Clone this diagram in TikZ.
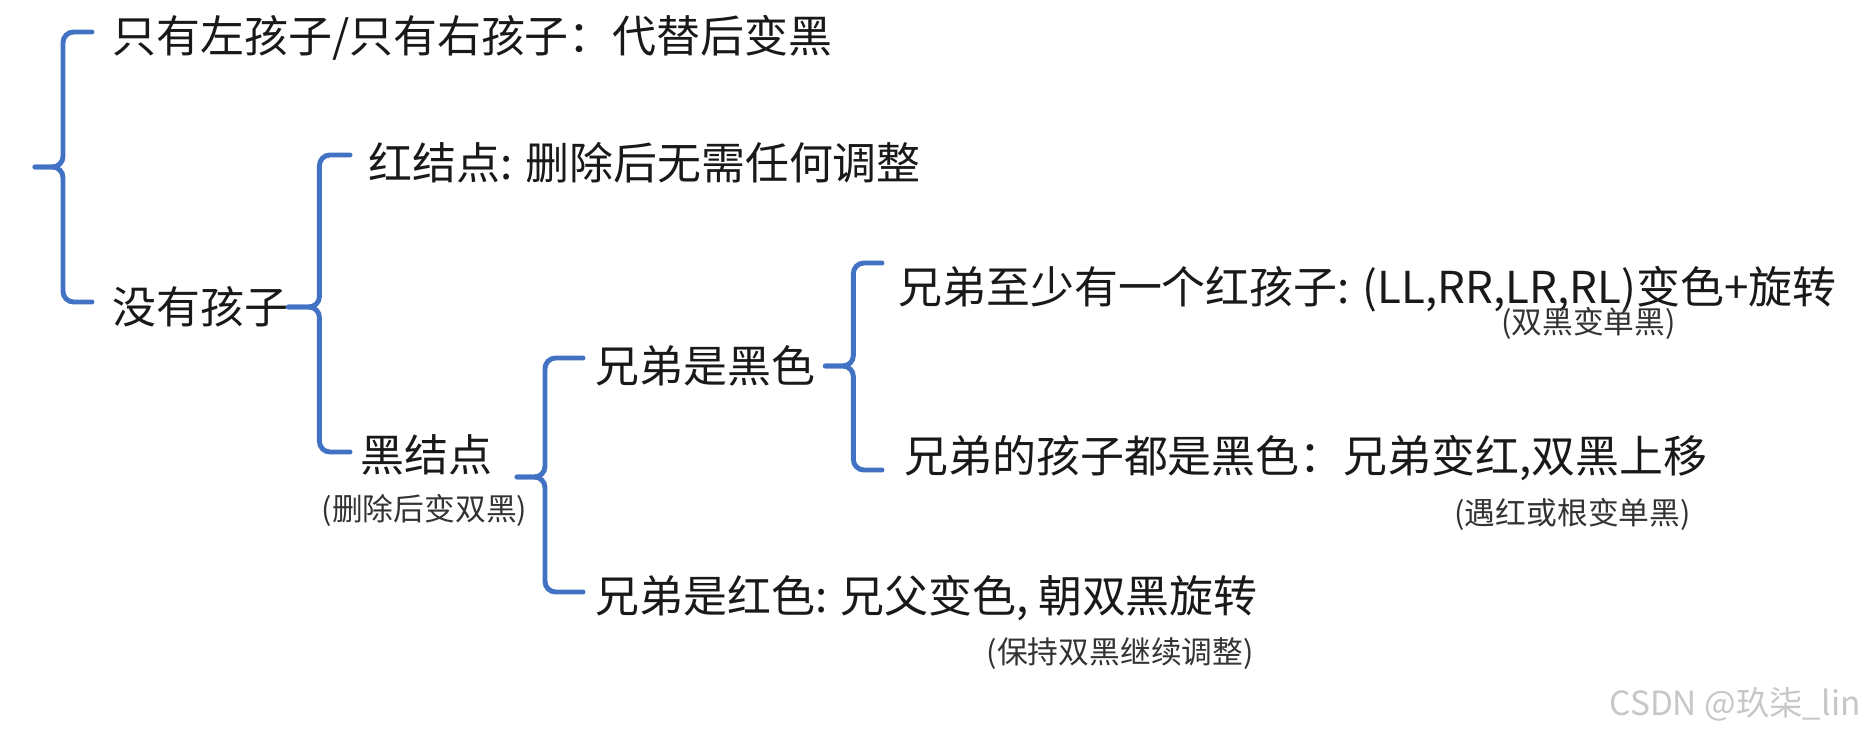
\documentclass[tikz,border=0pt]{standalone}
\usepackage{fontspec}
\usepackage{tikz}
\newfontfamily\cjk{Noto Sans CJK SC}
\definecolor{braceblue}{RGB}{66,114,196}

\begin{document}
\begin{tikzpicture}[
        item/.style={font=\cjk\fontsize{25pt}{30pt}\selectfont, text=black!90, inner sep=0pt, anchor=west},
        note/.style={font=\cjk\fontsize{17.5pt}{21pt}\selectfont, text=black!80, inner sep=0pt},
        brace/.style={draw=braceblue, line width=2.8pt, rounded corners=6pt, line cap=round},
        wmark/.style={font=\cjk\fontsize{19pt}{22pt}\selectfont, text=black!22, inner sep=0pt, anchor=east}
    ]
        \fill[white] (0,0) rectangle (37.28,14.66);

        \node[item] (onlyone) at (2.24, 13.90) {只有左孩子/只有右孩子：代替后变黑};
        \node[item] (nochild) at (2.24, 8.52) {没有孩子};
        \node[item] (red) at (7.36, 11.40) {红结点: 删除后无需任何调整};
        \node[item] (black) at (7.20, 5.56) {黑结点};
        \node[note] (blacknote) at (8.49, 4.46) {(删除后变双黑)};
        \node[item] (sibblack) at (11.90, 7.34) {兄弟是黑色};
        \node[item] (sibred) at (11.90, 2.70) {兄弟是红色: 兄父变色, 朝双黑旋转};
        \node[note, anchor=east] (sibrednote) at (25.08, 1.58) {(保持双黑继续调整)};
        \node[item] (redkid) at (17.96, 8.88) {兄弟至少有一个红孩子: (LL,RR,LR,RL)变色+旋转};
        \node[note, anchor=east] (redkidnote) at (33.52, 8.20) {(双黑变单黑)};
        \node[item] (blackkid) at (18.08, 5.50) {兄弟的孩子都是黑色：兄弟变红,双黑上移};
        \node[note, anchor=east] (blackkidnote) at (33.82, 4.38) {(遇红或根变单黑)};
        \node[wmark] (csdn) at (37.22, 0.58) {CSDN @玖柒\_lin};

        \coordinate (root) at (0.70, 11.32);
        \coordinate (blacktip) at (10.34, 5.12);

        % braces
        \draw[brace] ([xshift=-0.40cm, yshift=0.12cm]onlyone.west) -| ([xshift=0.56cm]root) -- (root);
        \draw[brace] ([xshift=-0.40cm, yshift=0.10cm]nochild.west) -| ([xshift=0.56cm]root) -- (root);
        \draw[brace] ([xshift=-0.36cm, yshift=0.16cm]red.west) -| ([xshift=0.62cm]nochild.east) -- (nochild.east);
        \draw[brace] ([xshift=-0.20cm, yshift=0.06cm]black.west) -| ([xshift=0.62cm]nochild.east) -- (nochild.east);
        \draw[brace] ([xshift=-0.24cm, yshift=0.16cm]sibblack.west) -| ([xshift=0.56cm]blacktip) -- (blacktip);
        \draw[brace] ([xshift=-0.24cm, yshift=0.12cm]sibred.west) -| ([xshift=0.56cm]blacktip) -- (blacktip);
        \draw[brace] ([xshift=-0.32cm, yshift=0.52cm]redkid.west) -| ([xshift=0.76cm]sibblack.east) -- ([xshift=0.20cm]sibblack.east);
        \draw[brace] ([xshift=-0.44cm, yshift=-0.24cm]blackkid.west) -| ([xshift=0.76cm]sibblack.east) -- ([xshift=0.20cm]sibblack.east);
\end{tikzpicture}
\end{document}
